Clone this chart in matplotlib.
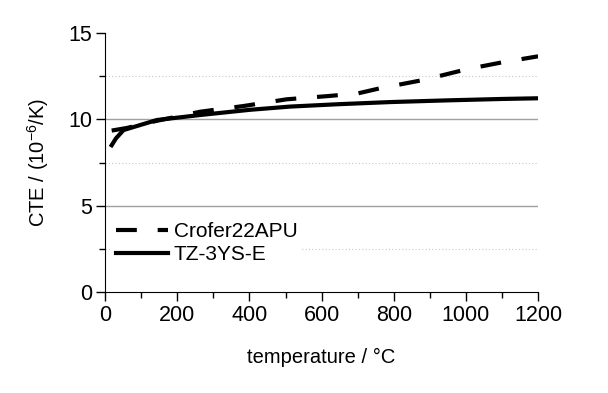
import numpy as np
import matplotlib.pyplot as plt
from matplotlib.ticker import MultipleLocator

plt.rcParams['font.family'] = ['Liberation Sans', 'DejaVu Sans']
plt.rcParams['mathtext.fontset'] = 'custom'
plt.rcParams['mathtext.rm'] = 'Liberation Sans'
plt.rcParams['mathtext.it'] = 'Liberation Sans'

# Crofer22APU (dashed)
crofer_t = [18, 60, 140, 263, 383, 503, 619, 700, 762, 882, 1002, 1100, 1200]
crofer_cte = [9.35, 9.5, 9.9, 10.44, 10.77, 11.16, 11.35, 11.5, 11.8, 12.28, 12.9, 13.3, 13.65]

# TZ-3YS-E (solid)
tz_t = [18, 30, 51, 97, 143, 263, 400, 513, 650, 790, 950, 1100, 1200]
tz_cte = [8.5, 8.9, 9.38, 9.67, 9.96, 10.25, 10.55, 10.74, 10.88, 11.0, 11.1, 11.18, 11.22]

fig = plt.figure(figsize=(6.08, 3.93), dpi=100)
ax = fig.add_axes([0.173, 0.257, 0.712, 0.659])

# gridlines: solid grey at majors, dotted at minors
for y in [5, 10]:
    ax.axhline(y, color='#a0a0a0', lw=1.0, zorder=1)
for y in [2.5, 7.5, 12.5]:
    ax.axhline(y, color='#c8c8c8', lw=0.8, ls=(0, (1, 2)), zorder=1)

ax.plot(crofer_t, crofer_cte, color='black', lw=3, ls=(0, (5, 5)),
        dash_capstyle='butt', label='Crofer22APU', zorder=3)
ax.plot(tz_t, tz_cte, color='black', lw=3, label='TZ-3YS-E', zorder=3)

ax.set_xlim(0, 1200)
ax.set_ylim(0, 15)
ax.xaxis.set_major_locator(MultipleLocator(200))
ax.xaxis.set_minor_locator(MultipleLocator(100))
ax.yaxis.set_major_locator(MultipleLocator(5))
ax.yaxis.set_minor_locator(MultipleLocator(2.5))
ax.tick_params(which='major', direction='out', length=6.5, width=1, labelsize=15.5, pad=3)
ax.tick_params(which='minor', direction='out', length=4, width=1)
ax.spines['top'].set_visible(False)
ax.spines['right'].set_visible(False)

ax.set_xlabel('temperature / °C', fontsize=14.5, labelpad=16)
ax.set_ylabel('CTE / (10$^{-6}$/K)', fontsize=14.5, labelpad=12)

leg = ax.legend(loc='upper left', bbox_to_anchor=(0.0, 0.31), frameon=True,
                fontsize=15, handlelength=2.5, handletextpad=0.3,
                borderpad=0.2, labelspacing=0.2, borderaxespad=0.3)
leg.get_frame().set_edgecolor('none')
leg.get_frame().set_facecolor('white')
leg.get_frame().set_alpha(1)

fig.savefig('out.png', dpi=100)
